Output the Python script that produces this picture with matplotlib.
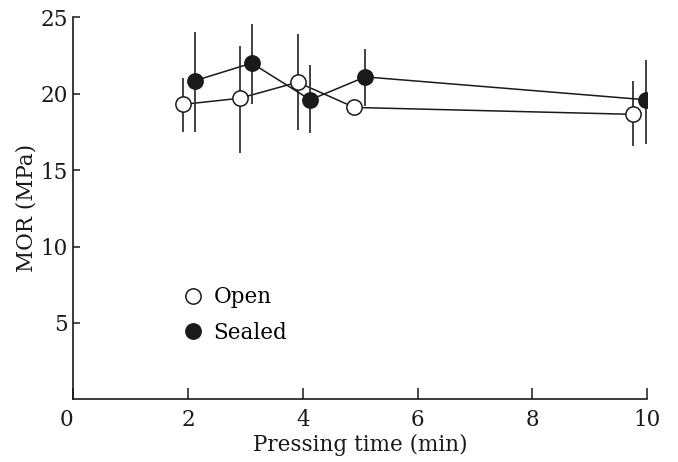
import matplotlib
matplotlib.use("Agg")
import matplotlib.pyplot as plt
from matplotlib.lines import Line2D
import matplotlib.transforms as mtransforms

# Data
open_x = [1.91, 2.90, 3.91, 4.90, 9.75]
open_y = [19.3, 19.7, 20.75, 19.1, 18.65]
open_lo = [17.5, 16.1, 17.65, 18.8, 16.6]
open_hi = [21.0, 23.1, 23.9, 19.4, 20.85]

sealed_x = [2.12, 3.11, 4.13, 5.09, 9.99]
sealed_y = [20.85, 22.0, 19.6, 21.1, 19.6]
sealed_lo = [17.5, 19.3, 17.45, 19.2, 16.7]
sealed_hi = [24.05, 24.55, 21.9, 22.95, 22.2]

xticks = [0, 2, 4, 6, 8, 10]
yticks = [5, 10, 15, 20, 25]

plt.rcParams['font.family'] = ['DejaVu Serif']
FS = 15.5

fig = plt.figure(figsize=(6.78, 4.62), dpi=100)
ax = fig.add_axes([73.3/678, 1-399.3/462, (647-73.3)/678, (399.3-17.3)/462])

def draw(x, y, lo, hi, face, z):
    ax.plot(x, y, color='#1a1a1a', lw=1.1, zorder=z)
    for xi, l, h in zip(x, lo, hi):
        ax.vlines(xi, l, h, color='#333333', lw=1.3, zorder=z)
    ax.plot(x, y, ls='none', marker='o', ms=11, mfc=face, mec='#1a1a1a',
            mew=1.1, zorder=z + 1)

draw(open_x, open_y, open_lo, open_hi, 'white', 2)
draw(sealed_x, sealed_y, sealed_lo, sealed_hi, '#1a1a1a', 4)

ax.set_xlim(0, 10)
ax.set_ylim(0, 25)
ax.set_xticks(xticks)
ax.set_yticks(yticks)
ax.spines['top'].set_visible(False)
ax.spines['right'].set_visible(False)
for s in ['left', 'bottom']:
    ax.spines[s].set_linewidth(1.2)
    ax.spines[s].set_color('#1a1a1a')
ax.tick_params(axis='x', direction='in', length=8, width=1.1, labelsize=FS,
               pad=7, colors='#1a1a1a')
ax.tick_params(axis='y', direction='in', length=5, width=1.1, labelsize=FS,
               pad=4, colors='#1a1a1a')

# shift the "0" label slightly left, as in the reference
lbl0 = ax.get_xticklabels()[0]
lbl0.set_transform(lbl0.get_transform() +
                   mtransforms.ScaledTranslation(-7/100, 0, fig.dpi_scale_trans))

ax.set_xlabel('Pressing time (min)', fontsize=FS, labelpad=2, color='#1a1a1a')
ax.set_ylabel('MOR (MPa)', fontsize=FS, labelpad=2, color='#1a1a1a')

handles = [
    Line2D([], [], ls='none', marker='o', ms=11, mfc='white', mec='#1a1a1a', mew=1.1),
    Line2D([], [], ls='none', marker='o', ms=11, mfc='#1a1a1a', mec='#1a1a1a', mew=1.1),
]
ax.legend(handles, ['Open', 'Sealed'], loc='lower left',
          bbox_to_anchor=(0.19, 0.146), frameon=False, fontsize=FS,
          handletextpad=0.45, labelspacing=0.62, handlelength=1.0,
          borderaxespad=0, borderpad=0)

fig.savefig('out.png', dpi=100)
